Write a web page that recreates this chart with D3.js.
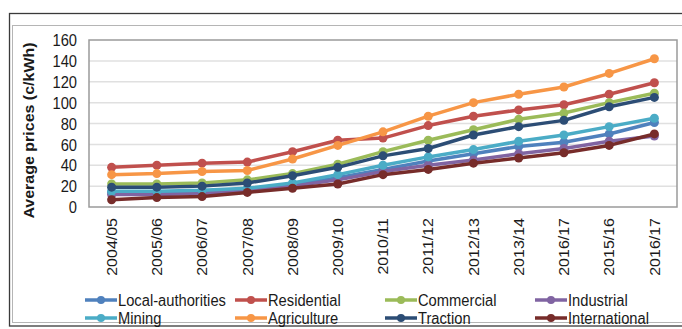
<!DOCTYPE html>
<html>
<head>
<meta charset="utf-8">
<script src="https://cdn.jsdelivr.net/npm/d3@7"></script>
<style>
  html, body { margin: 0; padding: 0; background: #fff; }
  svg { display: block; font-family: "Liberation Sans", Arial, sans-serif; }
</style>
</head>
<body>
<svg id="chart" width="682" height="329"></svg>
<script>
// Financial years on the category axis (as published, including the repeated 2016/17)
const years = ["2004/05","2005/06","2006/07","2007/08","2008/09","2009/10","2010/11",
               "2011/12","2012/13","2013/14","2016/17","2015/16","2016/17"];

// Average electricity prices by customer category, c/kWh
const localAuthorities = [14, 14, 15, 17, 21, 28, 36, 44, 51, 58, 62, 70, 81];
const residential      = [38, 40, 42, 43, 53, 64, 66, 78, 87, 93, 98, 108, 119];
const commercial       = [22, 22, 23, 26, 32, 41, 53, 64, 74, 84, 90, 100, 109];
const industrial       = [12, 12, 13, 16, 20, 26, 34, 40, 45, 51, 56, 63, 68];
const mining           = [15, 15, 16, 18, 23, 31, 40, 48, 55, 63, 69, 77, 85];
const agriculture      = [31, 32, 34, 35, 46, 59, 72, 87, 100, 108, 115, 128, 142];
const traction         = [19, 19, 20, 23, 30, 38, 49, 56, 69, 77, 83, 96, 105];
const international    = [7, 9, 10, 14, 18, 22, 31, 36, 42, 47, 52, 59, 70];

const yTicks = [0, 20, 40, 60, 80, 100, 120, 140, 160];

const series = [
  { name: "Local-authorities", values: localAuthorities, color: "#4F81BD" },
  { name: "Residential",       values: residential,      color: "#C0504D" },
  { name: "Commercial",        values: commercial,       color: "#9BBB59" },
  { name: "Industrial",        values: industrial,       color: "#8064A2" },
  { name: "Mining",            values: mining,           color: "#4BACC6" },
  { name: "Agriculture",       values: agriculture,      color: "#F79646" },
  { name: "Traction",          values: traction,         color: "#2C4D75" },
  { name: "International",     values: international,    color: "#772C2A" }
];

const svg = d3.select("#chart");
const squeeze = 0.92;   // narrow glyph proportions

// Outer frames
svg.append("rect").attr("x", 9.5).attr("y", 13.5).attr("width", 690).attr("height", 312.5)
  .attr("fill", "none").attr("stroke", "#3a3a3a").attr("stroke-width", 1.3);
svg.append("rect").attr("x", 12.5).attr("y", 25.5).attr("width", 690).attr("height", 297)
  .attr("fill", "none").attr("stroke", "#b5b5b5").attr("stroke-width", 1);

const plot = { left: 89, right: 677, top: 40, bottom: 207 };

const x = d3.scaleBand().domain(d3.range(years.length)).range([plot.left, plot.right]).padding(0);
const cx = i => x(i) + x.bandwidth() / 2;
const y = d3.scaleLinear().domain([0, 160]).range([plot.bottom, plot.top]);

// Gridlines
svg.append("g").selectAll("line").data(yTicks.filter(t => t > 0 && t < 160)).join("line")
  .attr("x1", plot.left).attr("x2", plot.right)
  .attr("y1", d => y(d)).attr("y2", d => y(d))
  .attr("stroke", "#e0e0e0").attr("stroke-width", 1.5);

// Plot area border
svg.append("rect").attr("x", plot.left).attr("y", plot.top)
  .attr("width", plot.right - plot.left).attr("height", plot.bottom - plot.top)
  .attr("fill", "none").attr("stroke", "#9a9a9a").attr("stroke-width", 1.5);

// Y axis tick labels
const yAxis = d3.axisLeft(y).tickValues(yTicks).tickSize(0).tickPadding(0);
const yg = svg.append("g").attr("transform", `translate(${plot.left - 12},0)`).call(yAxis);
yg.select(".domain").remove();
yg.selectAll(".tick text")
  .attr("x", null).attr("dy", null)
  .attr("dominant-baseline", "central")
  .attr("transform", `scale(${squeeze},1)`)
  .attr("font-size", 16).attr("fill", "#1a1a1a")
  .style("font-family", '"Liberation Sans", Arial, sans-serif');

// X axis category labels (vertical)
const xAxis = d3.axisBottom(x).tickSize(0).tickFormat(i => years[i]);
const xg = svg.append("g").attr("transform", `translate(0,${plot.bottom})`).call(xAxis);
xg.select(".domain").remove();
xg.selectAll(".tick text")
  .attr("y", null).attr("dy", null)
  .attr("text-anchor", "end")
  .attr("dominant-baseline", "central")
  .attr("transform", `translate(0,11) rotate(-90) scale(1,${squeeze})`)
  .attr("font-size", 16).attr("fill", "#1a1a1a")
  .style("font-family", '"Liberation Sans", Arial, sans-serif');

// Y axis title
svg.append("text")
  .attr("transform", `translate(29,${(plot.top + 217) / 2 + 2}) rotate(-90) scale(1,${squeeze})`)
  .attr("text-anchor", "middle").attr("dominant-baseline", "central")
  .attr("font-size", 16).attr("font-weight", "bold").attr("fill", "#1a1a1a")
  .text("Average prices (c/kWh)");

// Series lines and markers
const line = d3.line().x((d, i) => cx(i)).y(d => y(d));
const sg = svg.append("g").selectAll("g").data(series).join("g");
sg.append("path")
  .attr("d", d => line(d.values))
  .attr("fill", "none").attr("stroke", d => d.color)
  .attr("stroke-width", 3.5).attr("stroke-linejoin", "round");
sg.selectAll("circle").data(d => d.values.map(v => ({ v, c: d.color }))).join("circle")
  .attr("cx", (d, i) => cx(i)).attr("cy", d => y(d.v)).attr("r", 4.5)
  .attr("fill", d => d.c);

// Legend: two rows of four
const legend = svg.append("g");
const colX = [85, 235, 385, 535];
const rowY = [300, 318];
series.forEach((s, k) => {
  const gx = colX[k % 4], gy = rowY[Math.floor(k / 4)];
  const g = legend.append("g").attr("transform", `translate(${gx},${gy})`);
  g.append("line").attr("x1", 0).attr("x2", 32).attr("y1", 0).attr("y2", 0)
    .attr("stroke", s.color).attr("stroke-width", 3.5);
  g.append("circle").attr("cx", 16).attr("cy", 0).attr("r", 4).attr("fill", s.color);
  g.append("text").attr("transform", `translate(33,0) scale(${squeeze},1)`)
    .attr("dominant-baseline", "central")
    .attr("font-size", 16).attr("fill", "#1a1a1a").text(s.name);
});
</script>
</body>
</html>
